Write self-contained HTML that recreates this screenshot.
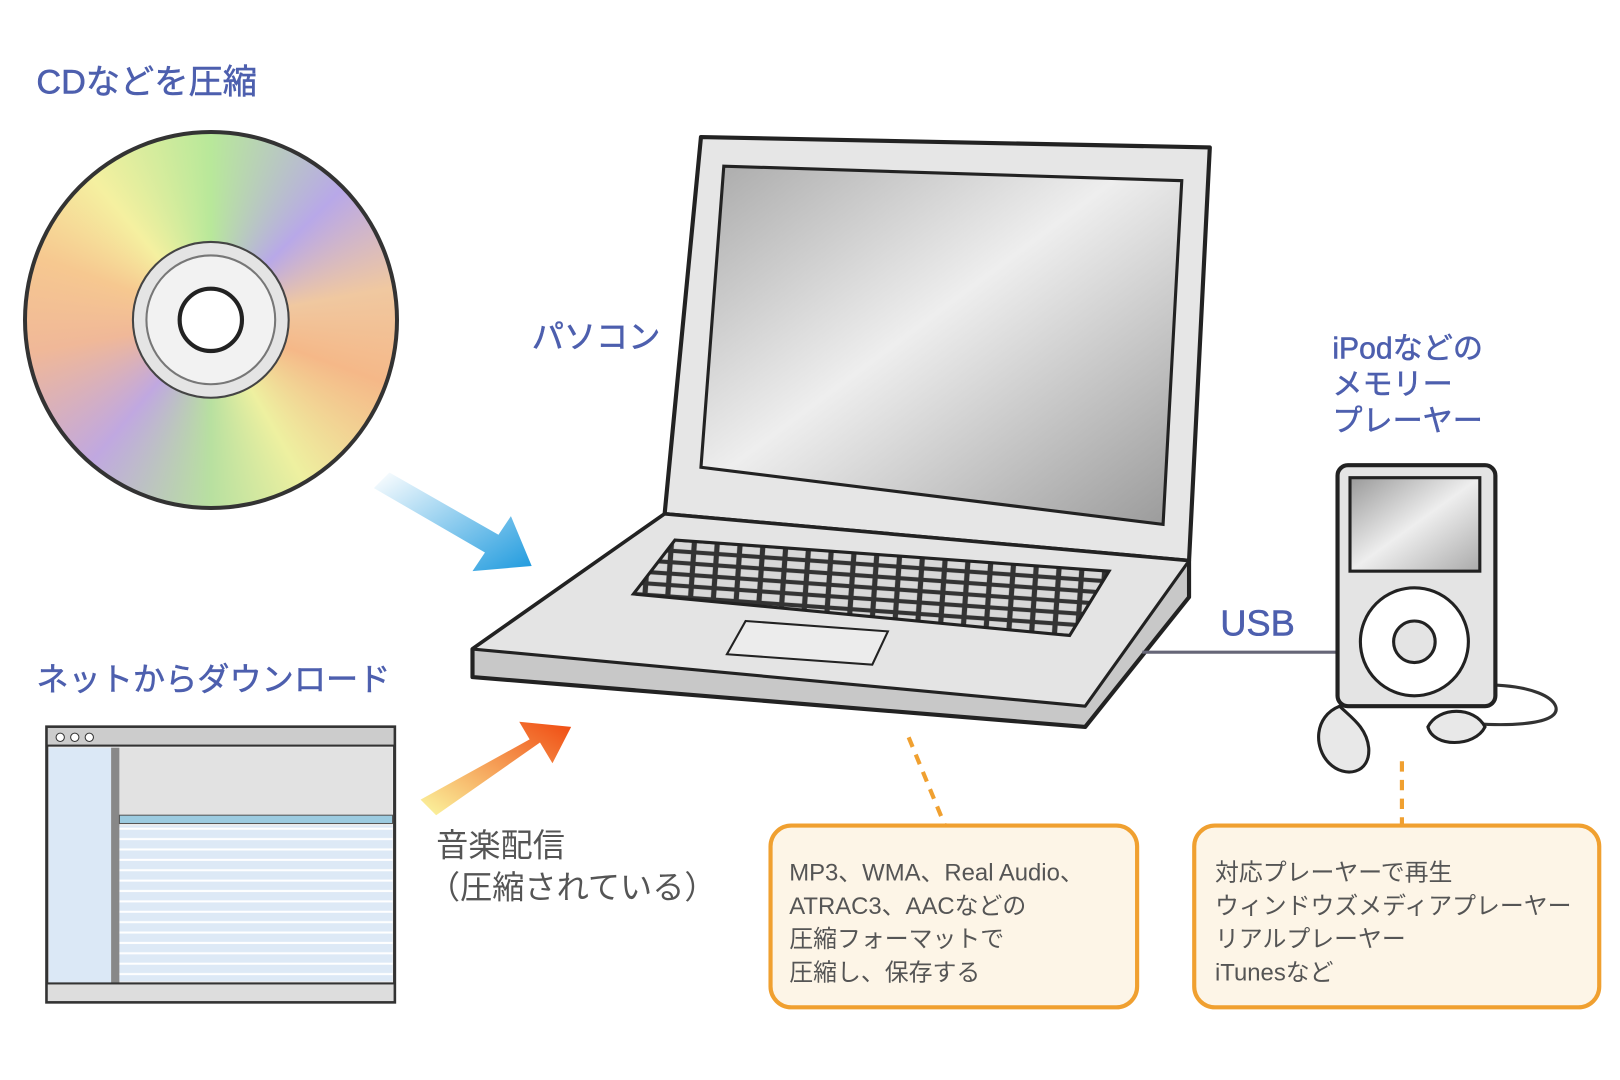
<!DOCTYPE html>
<html><head><meta charset="utf-8"><style>
html,body{margin:0;padding:0;background:#fff;}
svg{display:block}
.b{font-family:"Liberation Sans","Noto Sans CJK JP",sans-serif;fill:#4d5fae;stroke:#4d5fae;stroke-width:0.5px;}
.g{font-family:"Liberation Sans","Noto Sans CJK JP",sans-serif;fill:#555;}
</style></head><body>
<div style="position:relative;width:1620px;height:1080px;overflow:hidden;">
<div style="position:absolute;left:23px;top:130px;width:376px;height:380px;border-radius:50%;background:conic-gradient(from 0deg,#b8e89a 0deg,#b8a8e8 45deg,#f0c8a0 80deg,#f5b888 110deg,#eef0a0 150deg,#b8e0a0 180deg,#c0a8e0 220deg,#f0b898 260deg,#f6c890 290deg,#f5f0a0 320deg,#b8e89a 360deg);border:4px solid #333;box-sizing:border-box;"></div>
<svg width="1620" height="1080" viewBox="0 0 1560 1040" preserveAspectRatio="none" style="position:absolute;left:0;top:0">
<defs>
<linearGradient id="ab" x1="0" y1="0" x2="1" y2="1"><stop offset="0" stop-color="#fff"/><stop offset="1" stop-color="#1e9ade"/></linearGradient>
<linearGradient id="ao" x1="0" y1="1" x2="1" y2="0"><stop offset="0" stop-color="#fbf7a0"/><stop offset="1" stop-color="#f04a10"/></linearGradient>
<linearGradient id="scr" x1="0" y1="0" x2="1" y2="1"><stop offset="0" stop-color="#aaa"/><stop offset=".45" stop-color="#eee"/><stop offset="1" stop-color="#999"/></linearGradient>
<linearGradient id="ips" x1="0" y1="0" x2="1" y2="1"><stop offset="0" stop-color="#999"/><stop offset=".5" stop-color="#eee"/><stop offset="1" stop-color="#aaa"/></linearGradient>
<pattern id="ln" width="10" height="10" patternUnits="userSpaceOnUse"><rect width="10" height="10" fill="#dde9f6"/><rect y="7" width="10" height="2" fill="#fff"/></pattern>
<pattern id="kb" width="22" height="11" patternUnits="userSpaceOnUse" patternTransform="rotate(4)"><rect width="22" height="11" fill="#333"/><rect x="2" y="2" width="17" height="7" fill="#d8d8d8"/></pattern>
</defs>
<text class="b" x="35" y="90" font-size="33">CDなどを圧縮</text>
<circle cx="203" cy="308" r="75" fill="#e4e4e4" stroke="#444" stroke-width="2"/>
<circle cx="203" cy="308" r="62" fill="#f2f2f2" stroke="#777" stroke-width="2"/>
<circle cx="203" cy="308" r="30" fill="#fff" stroke="#222" stroke-width="4"/>
<path d="M360 470 L375 455 L480 515 L492 497 L512 545 L455 550 L467 532 Z" fill="url(#ab)"/>
<path d="M405 770 L420 785 L520 715 L532 735 L550 700 L500 695 L510 712 Z" fill="url(#ao)"/>
<text class="b" x="35" y="665" font-size="31">ネットからダウンロード</text>
<rect x="45" y="700" width="335" height="265" fill="#eee" stroke="#333" stroke-width="3"/>
<rect x="45" y="700" width="335" height="18" fill="#ccc" stroke="#333" stroke-width="2"/>
<circle cx="58" cy="710" r="4" fill="#fff" stroke="#333"/><circle cx="72" cy="710" r="4" fill="#fff" stroke="#333"/><circle cx="86" cy="710" r="4" fill="#fff" stroke="#333"/>
<rect x="47" y="720" width="60" height="243" fill="#dbe8f6"/>
<rect x="107" y="720" width="8" height="243" fill="#888"/>
<rect x="115" y="720" width="263" height="65" fill="#e2e2e2"/>
<rect x="115" y="785" width="263" height="8" fill="#9ccbe0" stroke="#555"/>
<rect x="115" y="795" width="263" height="150" fill="url(#ln)"/>
<rect x="45" y="947" width="335" height="18" fill="#ddd" stroke="#333" stroke-width="2"/>
<text class="g" x="420" y="825" font-size="31">音楽配信</text>
<text class="g" x="412" y="865" font-size="31">（圧縮されている）</text>
<text class="b" x="512" y="335" font-size="31">パソコン</text>
<path d="M675 132 L1165 142 L1145 540 L640 495 Z" fill="#e6e6e6" stroke="#222" stroke-width="4" stroke-linejoin="round"/>
<path d="M697 160 L1138 174 L1120 505 L675 450 Z" fill="url(#scr)" stroke="#222" stroke-width="3"/>
<path d="M640 495 L1145 540 L1145 575 L1045 700 L455 652 L455 625 Z" fill="#c8c8c8" stroke="#222" stroke-width="4" stroke-linejoin="round"/>
<path d="M640 495 L1145 540 L1045 680 L455 625 Z" fill="#e4e4e4" stroke="#222" stroke-width="3" stroke-linejoin="round"/>
<path d="M650 520 L1068 550 L1030 612 L610 572 Z" fill="url(#kb)" stroke="#222" stroke-width="3"/>
<path d="M718 598 L855 608 L840 640 L700 630 Z" fill="#ececec" stroke="#222" stroke-width="2"/>
<line x1="1100" y1="628" x2="1290" y2="628" stroke="#667" stroke-width="3"/>
<text class="b" x="1175" y="612" font-size="35">USB</text>
<text class="b" x="1283" y="345" font-size="29">iPodなどの</text>
<text class="b" x="1283" y="380" font-size="29">メモリー</text>
<text class="b" x="1283" y="415" font-size="29">プレーヤー</text>
<path d="M1360 672 C1420 650 1490 660 1498 680 C1505 700 1440 700 1400 695" fill="none" stroke="#333" stroke-width="3"/>
<rect x="1288" y="448" width="152" height="232" rx="10" fill="#e4e4e4" stroke="#222" stroke-width="4"/>
<rect x="1300" y="460" width="125" height="90" fill="url(#ips)" stroke="#222" stroke-width="3"/>
<circle cx="1362" cy="618" r="52" fill="#fff" stroke="#222" stroke-width="3"/>
<circle cx="1362" cy="618" r="20" fill="#e4e4e4" stroke="#222" stroke-width="3"/>
<path d="M1290 680 C1265 690 1265 720 1280 735 C1295 750 1320 745 1318 720 C1316 700 1300 690 1290 680 Z" fill="#e8e8e8" stroke="#222" stroke-width="3"/>
<path d="M1375 700 C1385 680 1420 680 1430 700 C1420 720 1380 720 1375 700 Z" fill="#e8e8e8" stroke="#222" stroke-width="3"/>
<line x1="875" y1="710" x2="910" y2="795" stroke="#f0a030" stroke-width="4" stroke-dasharray="10 8"/>
<line x1="1350" y1="733" x2="1350" y2="795" stroke="#f0a030" stroke-width="4" stroke-dasharray="10 8"/>
<rect x="742" y="795" width="353" height="175" rx="20" fill="#fdf5e7" stroke="#f0a030" stroke-width="4"/>
<rect x="1150" y="795" width="390" height="175" rx="20" fill="#fdf5e7" stroke="#f0a030" stroke-width="4"/>
<g class="g" font-size="23">
<text x="760" y="848">MP3、WMA、Real Audio、</text>
<text x="760" y="880">ATRAC3、AACなどの</text>
<text x="760" y="912">圧縮フォーマットで</text>
<text x="760" y="944">圧縮し、保存する</text>
<text x="1170" y="848">対応プレーヤーで再生</text>
<text x="1170" y="880">ウィンドウズメディアプレーヤー</text>
<text x="1170" y="912">リアルプレーヤー</text>
<text x="1170" y="944">iTunesなど</text>
</g>
</svg>
</div>
</body></html>
